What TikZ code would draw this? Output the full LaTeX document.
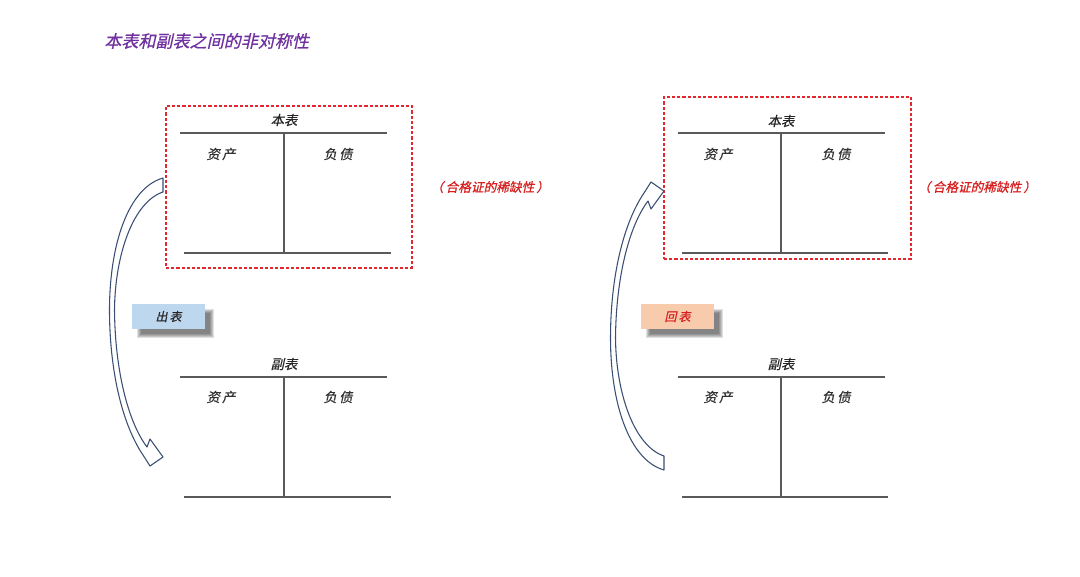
\documentclass[tikz,border=0pt]{standalone}
\usepackage{fontspec}
\newfontfamily\cjk[FakeSlant=0.22,FakeBold=0.6]{Noto Sans CJK SC}
\definecolor{titlepurple}{HTML}{7030A0}
\definecolor{tlinec}{HTML}{5A5A5A}
\definecolor{dashred}{HTML}{E0282E}
\definecolor{arrowblue}{HTML}{3A4F72}
\definecolor{boxblue}{HTML}{BDD7EE}
\definecolor{boxorange}{HTML}{F8CBAD}
\definecolor{labelred}{HTML}{D62020}
\pgfdeclarelayer{background}
\pgfsetlayers{background,main}
\begin{document}
\begin{tikzpicture}[x=0.75pt,y=-0.75pt,
  tline/.style={draw=tlinec, line width=0.9pt},
  hdr/.style={font=\cjk\fontsize{10}{12}\selectfont, text=black!85, inner sep=0pt},
  colhdr/.style={font=\cjk\fontsize{10}{12}\selectfont, text=black!80, inner sep=0pt},
  dashbox/.style={draw=dashred, dash pattern=on 2.4pt off 1.5pt, line width=0.8pt},
  flowbox/.style={minimum width=54.75pt, minimum height=18.75pt, inner sep=0pt,
     font=\cjk\fontsize{9}{11}\selectfont},
  shadowlayer/.style={fill=black, opacity=0.12},
  note/.style={text=labelred, font=\cjk\fontsize{9.5}{11}\selectfont, inner sep=0pt},
  blockarrow/.style={draw=arrowblue, fill=white, line width=0.8pt, line join=round}
]
\useasboundingbox (0,0) rectangle (1080,577);
\begin{pgfonlayer}{background}
\fill[white] (0,0) rectangle (1080,577);
\end{pgfonlayer}

% title
\node[anchor=west, text=titlepurple, font=\cjk\fontsize{12.8}{14}\selectfont, inner sep=0pt] (title) at (104,41) {本表和副表之间的非对称性};

% dashed boxes
\node[dashbox, minimum width=184.5pt, minimum height=121.5pt, inner sep=0pt] (boxL) at (289,187) {};
\node[dashbox, minimum width=185.25pt, minimum height=121.5pt, inner sep=0pt] (boxR) at (787.5,178) {};

% left top T account
\node[hdr] (hL1) at (284,120) {本表};
\node[colhdr] (aL1) at (221,154) {资\,产};
\node[colhdr] (lL1) at (338,154) {负\,债};
\coordinate (tL1a) at (180,133); \coordinate (tL1b) at (387,133);
\coordinate (vL1a) at (284,133); \coordinate (vL1b) at (284,253);
\coordinate (bL1a) at (184,253); \coordinate (bL1b) at (391,253);
\draw[tline] (tL1a) -- (tL1b); \draw[tline] (vL1a) -- (vL1b); \draw[tline] (bL1a) -- (bL1b);

% left bottom T account
\node[hdr] (hL2) at (284,364) {副表};
\node[colhdr] (aL2) at (221,397) {资\,产};
\node[colhdr] (lL2) at (338,397) {负\,债};
\coordinate (tL2a) at (180,377); \coordinate (tL2b) at (387,377);
\coordinate (vL2a) at (284,377); \coordinate (vL2b) at (284,497);
\coordinate (bL2a) at (184,497); \coordinate (bL2b) at (391,497);
\draw[tline] (tL2a) -- (tL2b); \draw[tline] (vL2a) -- (vL2b); \draw[tline] (bL2a) -- (bL2b);

% right top T account
\node[hdr] (hR1) at (781,121) {本表};
\node[colhdr] (aR1) at (718,154) {资\,产};
\node[colhdr] (lR1) at (836,154) {负\,债};
\coordinate (tR1a) at (678,133); \coordinate (tR1b) at (885,133);
\coordinate (vR1a) at (781,133); \coordinate (vR1b) at (781,253);
\coordinate (bR1a) at (682,253); \coordinate (bR1b) at (888,253);
\draw[tline] (tR1a) -- (tR1b); \draw[tline] (vR1a) -- (vR1b); \draw[tline] (bR1a) -- (bR1b);

% right bottom T account
\node[hdr] (hR2) at (781,364) {副表};
\node[colhdr] (aR2) at (718,397) {资\,产};
\node[colhdr] (lR2) at (836,397) {负\,债};
\coordinate (tR2a) at (678,377); \coordinate (tR2b) at (885,377);
\coordinate (vR2a) at (781,377); \coordinate (vR2b) at (781,497);
\coordinate (bR2a) at (682,497); \coordinate (bR2b) at (888,497);
\draw[tline] (tR2a) -- (tR2b); \draw[tline] (vR2a) -- (vR2b); \draw[tline] (bR2a) -- (bR2b);

% red notes
\node[note] (noteL) at (490,187) {（\,合格证的稀缺性\,）};
\node[note] (noteR) at (977,187) {（\,合格证的稀缺性\,）};

% flow labels
\node[flowbox, fill=boxblue, text=black!85] (out) at (168.5,316.5) {出\,表};
\node[flowbox, fill=boxorange, text=labelred] (back) at (677.5,316.5) {回\,表};

% soft shadows
\begin{pgfonlayer}{background}
\foreach \n in {out,back}{
  \foreach \d in {-2,-1,0,1,2}{
    \fill[shadowlayer] ([shift={(7+\d,7+\d)}]\n.north west) rectangle ([shift={(7-\d,7-\d)}]\n.south east);
  }
}
\end{pgfonlayer}

% left curved block arrow (out)
\draw[blockarrow] (163,178) -- (163,192)
  .. controls (133,202) and (115,255) .. (114.5,310)
  .. controls (115,370) and (128,422) .. (147,447)
  -- (150,439) -- (163,457) -- (150,466) -- (143,455)
  .. controls (122,424) and (109.5,370) .. (109.5,310)
  .. controls (109.5,245) and (128,188) .. (163,178) -- cycle;

% right curved block arrow (back), mirrored
\begin{scope}[shift={(501,648)}, yscale=-1]
\draw[blockarrow] (163,178) -- (163,192)
  .. controls (133,202) and (115,255) .. (114.5,310)
  .. controls (115,370) and (128,422) .. (147,447)
  -- (150,439) -- (163,457) -- (150,466) -- (143,455)
  .. controls (122,424) and (109.5,370) .. (109.5,310)
  .. controls (109.5,245) and (128,188) .. (163,178) -- cycle;
\end{scope}
\end{tikzpicture}
\end{document}
